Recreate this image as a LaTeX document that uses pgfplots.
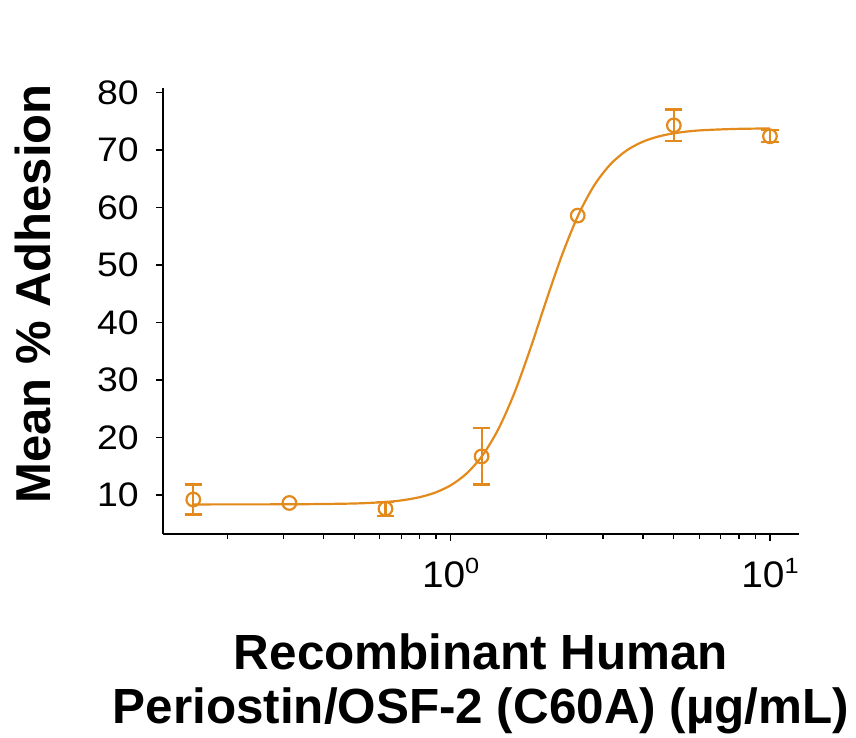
\documentclass[border=0pt]{standalone}
\usepackage{pgfplots}
\pgfplotsset{compat=1.18}
\usepackage{fontspec}
\setmainfont{Liberation Sans}
\newfontfamily\ytickfont[FakeStretch=1.1]{Liberation Sans}
\newfontfamily\xtickfont[FakeStretch=1.05]{Liberation Sans}
\newfontfamily\suptickfont[FakeStretch=1.15]{Liberation Sans}
\definecolor{curveorange}{RGB}{227,138,28}
\newcommand{\xtl}[1]{{\xtickfont\fontsize{18.5}{19}\selectfont 10\raisebox{6.8pt}{\suptickfont\fontsize{11}{11}\selectfont #1}}}
\begin{document}
\begin{tikzpicture}
\useasboundingbox (0,0) rectangle (428pt,369pt);
\begin{axis}[
  at={(81.5pt,102pt)}, anchor=south west,
  scale only axis, width=318pt, height=223pt,
  xmode=log, xmin=0.1256, xmax=12.33, ymin=3.2, ymax=80.8,
  axis x line*=bottom, axis y line*=left,
  axis line style={-, line width=1pt, black},
  tick align=outside,
  major tick length=3.6pt, minor tick length=2.6pt,
  every tick/.style={black, line width=0.6pt},
  ytick={10,20,30,40,50,60,70,80},
  xtick={1,10},
  xticklabels={\xtl{0},\xtl{1}},
  minor xtick={0.2,0.3,0.4,0.5,0.6,0.7,0.8,0.9,2,3,4,5,6,7,8,9},
  /pgf/number format/assume math mode=true,
  yticklabel style={font=\ytickfont\fontsize{17}{18}\selectfont, xshift=-5pt},
  xticklabel style={yshift=-5pt},
  xlabel={Recombinant Human\\Periostin/OSF-2 (C60A) (µg/mL)},
  xlabel style={font=\bfseries\fontsize{24.7}{27}\selectfont, align=center, inner sep=0pt, anchor=north, at={(axis description cs:0.5,-0.222)}},
  ylabel={Mean \% Adhesion},
  ylabel style={font=\bfseries\fontsize{24.5}{27}\selectfont, inner sep=0pt, rotate=0, anchor=north, at={(axis description cs:-0.233,0.538)}},
  clip=false,
]
% fitted curve
\addplot[curveorange, line width=1.1pt, smooth, no marks] coordinates {
(0.156,8.35) (0.316,8.37) (0.501,8.51) (0.631,8.79) (0.708,9.08) (0.794,9.57) (0.891,10.37)
(1.000,11.67) (1.122,13.73) (1.259,16.90) (1.413,21.54) (1.585,27.80) (1.778,35.50)
(1.995,43.90) (2.239,51.93) (2.512,58.73) (2.818,63.89) (3.162,67.50) (3.548,69.89)
(3.981,71.41) (4.467,72.35) (5.012,72.93) (5.623,73.28) (6.310,73.49) (7.943,73.69) (10.00,73.76)
};
% error bars
\addplot[only marks, mark=*, mark size=0pt, mark options={draw=none, fill=none}, forget plot,
  error bars/.cd, y dir=both, y explicit,
  error bar style={draw=curveorange, line width=1.1pt},
  error mark options={draw=curveorange, line width=1.1pt, rotate=90, mark size=4.3pt}]
coordinates {
(0.15625,9.2) +- (0,2.6)
(0.625,7.6) +- (0,1.2)
(1.25,16.7) +- (0,4.9)
(5,74.3) +- (0,2.75)
(10,72.4) +- (0,1.05)
};
% data points
\addplot[only marks, mark=o, mark size=3.4pt, mark options={draw=curveorange, line width=1.1pt, fill=none}]
coordinates {
(0.15625,9.2) (0.3125,8.6) (0.625,7.6) (1.25,16.7) (2.5,58.6) (5,74.3) (10,72.4)
};
\end{axis}
\end{tikzpicture}
\end{document}
